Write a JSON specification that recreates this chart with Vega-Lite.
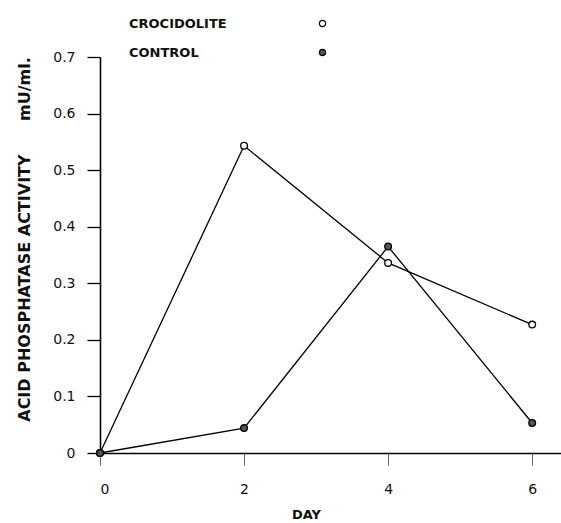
{
  "$schema": "https://vega.github.io/schema/vega-lite/v6.json",
  "width": 461,
  "height": 396,
  "autosize": "none",
  "padding": {"left": 100, "top": 57, "right": 0, "bottom": 70},
  "background": "white",
  "data": {
    "values": [
      {"series": "CROCIDOLITE", "day": 0, "activity": 0.0},
      {"series": "CROCIDOLITE", "day": 2, "activity": 0.543},
      {"series": "CROCIDOLITE", "day": 4, "activity": 0.336},
      {"series": "CROCIDOLITE", "day": 6, "activity": 0.227},
      {"series": "CONTROL", "day": 0, "activity": 0.0},
      {"series": "CONTROL", "day": 2, "activity": 0.044},
      {"series": "CONTROL", "day": 4, "activity": 0.365},
      {"series": "CONTROL", "day": 6, "activity": 0.053}
    ]
  },
  "encoding": {
    "x": {
      "field": "day",
      "type": "quantitative",
      "scale": {"domain": [0, 6.4], "nice": false, "zero": false},
      "axis": {
        "title": "DAY",
        "values": [0, 2, 4, 6],
        "format": "d",
        "tickSize": 12,
        "tickColor": "#666",
        "tickWidth": 1,
        "labelPadding": 17,
        "titleX": 206,
        "titleY": 55,
        "titleFontSize": 13
      }
    },
    "y": {
      "field": "activity",
      "type": "quantitative",
      "scale": {"domain": [0, 0.7], "nice": false},
      "axis": {
        "title": "ACID PHOSPHATASE ACTIVITY\u00a0\u00a0\u00a0\u00a0\u00a0\u00a0mU/ml.",
        "values": [0, 0.1, 0.2, 0.3, 0.4, 0.5, 0.6, 0.7],
        "labelExpr": "datum.value == 0 ? '0' : format(datum.value, '.1f')",
        "tickSize": 13,
        "tickColor": "black",
        "tickWidth": 1.3,
        "labelPadding": 12,
        "titleX": -76,
        "titleY": 182,
        "titleAlign": "center",
        "titleAngle": -90,
        "titleBaseline": "middle",
        "titleFontSize": 16
      }
    }
  },
  "layer": [
    {
      "mark": {"type": "line", "color": "black", "strokeWidth": 1.3},
      "encoding": {"detail": {"field": "series", "type": "nominal"}}
    },
    {
      "mark": {"type": "point", "shape": "circle", "filled": true, "stroke": "black", "strokeWidth": 1.3, "size": 45, "opacity": 1},
      "encoding": {
        "fill": {
          "field": "series",
          "type": "nominal",
          "scale": {"domain": ["CROCIDOLITE", "CONTROL"], "range": ["white", "#555555"]},
          "legend": {
            "title": null,
            "orient": "none",
            "legendX": 216,
            "legendY": -40,
            "symbolType": "circle",
            "symbolSize": 40,
            "symbolStrokeColor": "black",
            "symbolStrokeWidth": 1.2,
            "labelOffset": -200,
            "rowPadding": 15,
            "labelFont": "DejaVu Sans",
            "labelFontSize": 13,
            "labelFontWeight": "bold",
            "labelColor": "#111"
          }
        }
      }
    }
  ],
  "config": {
    "view": {"stroke": null},
    "axis": {
      "grid": false,
      "domainColor": "black",
      "domainWidth": 1.6,
      "labelFont": "DejaVu Sans",
      "labelFontSize": 14,
      "labelColor": "#111",
      "titleFont": "DejaVu Sans",
      "titleFontSize": 15,
      "titleFontWeight": "bold",
      "titleColor": "#111"
    }
  }
}
